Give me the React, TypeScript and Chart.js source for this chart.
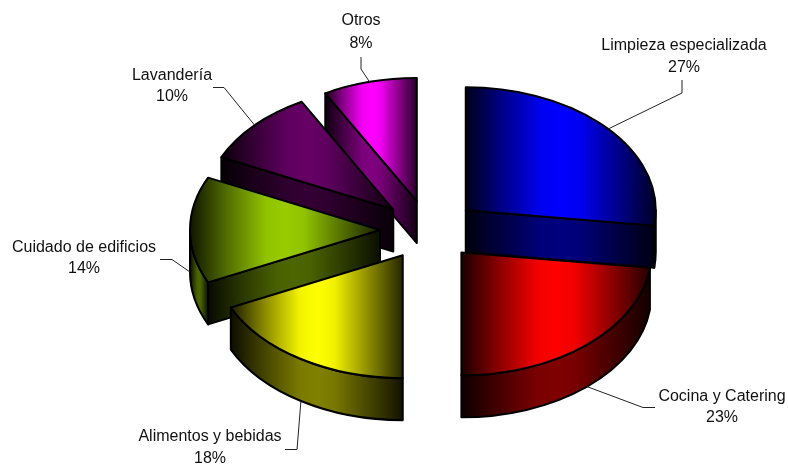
import React, { useEffect, useRef } from "react";
import { Chart, registerables } from "chart.js";

Chart.register(...registerables);

const categories = ["Limpieza especializada", "Cocina y Catering", "Alimentos y bebidas", "Cuidado de edificios", "Lavandería", "Otros"];
const shares = [27, 23, 18, 14, 10, 8];
const percentLabels = ["27%", "23%", "18%", "14%", "10%", "8%"];
const baseColors = [[0, 0, 255], [255, 0, 0], [255, 255, 0], [153, 204, 0], [102, 0, 102], [255, 0, 255]];

// Presentation settings for the tilted, exploded pie
const RADIUS = 190;
const TILT = 0.647;
const EXPLODE_TILT = 0.61;
const DEPTH = 42;
const EXPLODE = 49;
const PAINT_ORDER = [5, 4, 0, 3, 1, 2];
const FONT = '16px "Liberation Sans", Arial, sans-serif';
// centre x, first baseline, second baseline, elbow and stub of each leader
const labelLayout = [
  { x: 684, y1: 50, y2: 72, pts: [[682, 93], [682, 80]] },
  { x: 722, y1: 401, y2: 422, pts: [[643, 407.5], [655, 407.5]] },
  { x: 210, y1: 441, y2: 463, pts: [[297, 449.5], [285, 449.5]] },
  { x: 84, y1: 252, y2: 273, pts: [[172, 259.5], [160, 259.5]] },
  { x: 172, y1: 80, y2: 101, pts: [[224, 87.5], [213, 87.5]] },
  { x: 361, y1: 25, y2: 48, pts: [[361, 69], [361, 57]] },
];

const rgb = (c: number[], f: number) => `rgb(${c.map((v) => Math.round(v * f)).join(",")})`;

function sheen(ctx: CanvasRenderingContext2D, x0: number, x1: number, c: number[], f: number, lo = 0.1, hi = 0.15) {
  const g = ctx.createLinearGradient(x0, 0, x1, 0);
  g.addColorStop(0, rgb(c, f * lo));
  g.addColorStop(0.2, rgb(c, f * 0.55));
  g.addColorStop(0.4, rgb(c, f * 0.95));
  g.addColorStop(0.5, rgb(c, f));
  g.addColorStop(0.6, rgb(c, f * 0.95));
  g.addColorStop(0.8, rgb(c, f * 0.55));
  g.addColorStop(1, rgb(c, f * hi));
  return g;
}

function geometry(arc: any) {
  const mid = (arc.startAngle + arc.endAngle) / 2;
  const ax = arc.x + Math.cos(mid) * EXPLODE;
  const ay = arc.y + Math.sin(mid) * EXPLODE * EXPLODE_TILT;
  const r = arc.outerRadius;
  const pt = (a: number, dy = 0) => [ax + Math.cos(a) * r, ay + Math.sin(a) * r * TILT + dy];
  return { mid, ax, ay, r, pt };
}

const piePlugin = {
  id: "tiltedPie",
  beforeDatasetsDraw(chart: any) {
    const ctx: CanvasRenderingContext2D = chart.ctx;
    const arcs = chart.getDatasetMeta(0).data;
    ctx.save();
    ctx.strokeStyle = "#000";
    ctx.lineWidth = 2;
    ctx.lineJoin = "round";
    for (const i of PAINT_ORDER) {
      const arc = arcs[i];
      const c = baseColors[i];
      const s = arc.startAngle;
      const e = arc.endAngle;
      const { ax, ay, r, pt } = geometry(arc);

      const wall = (a: number) => {
        const p = pt(a);
        ctx.beginPath();
        ctx.moveTo(ax, ay);
        ctx.lineTo(p[0], p[1]);
        ctx.lineTo(p[0], p[1] + DEPTH);
        ctx.lineTo(ax, ay + DEPTH);
        ctx.closePath();
        ctx.fillStyle = sheen(ctx, Math.min(ax, p[0]), Math.max(ax, p[0]), c, 0.5);
        ctx.fill();
        ctx.stroke();
      };
      if (Math.cos(s) < -1e-6) wall(s);
      if (Math.cos(e) > 1e-6) wall(e);

      const rs = Math.max(s, 0);
      const re = Math.min(e, Math.PI);
      if (re > rs) {
        const a = pt(rs);
        const b = pt(re);
        ctx.beginPath();
        ctx.ellipse(ax, ay, r, r * TILT, 0, rs, re);
        ctx.lineTo(b[0], b[1] + DEPTH);
        ctx.ellipse(ax, ay + DEPTH, r, r * TILT, 0, re, rs, true);
        ctx.lineTo(a[0], a[1]);
        ctx.closePath();
        ctx.fillStyle = sheen(ctx, Math.min(a[0], b[0]), Math.max(a[0], b[0]), c, 0.5);
        ctx.fill();
        ctx.stroke();
      }

      const xs = [ax, pt(s)[0], pt(e)[0]];
      if (s < 0 && e > 0) xs.push(ax + r);
      if (s < Math.PI && e > Math.PI) xs.push(ax - r);
      ctx.beginPath();
      ctx.moveTo(ax, ay);
      ctx.ellipse(ax, ay, r, r * TILT, 0, s, e);
      ctx.closePath();
      ctx.fillStyle = sheen(ctx, Math.min(...xs), Math.max(...xs), c, 1);
      ctx.fill();
      ctx.stroke();
    }
    ctx.restore();
    return false;
  },
  afterDraw(chart: any) {
    const ctx: CanvasRenderingContext2D = chart.ctx;
    const arcs = chart.getDatasetMeta(0).data;
    ctx.save();
    ctx.font = FONT;
    ctx.textAlign = "center";
    ctx.textBaseline = "alphabetic";
    ctx.fillStyle = "#111";
    categories.forEach((name, i) => {
      const l = labelLayout[i];
      ctx.fillText(name, l.x, l.y1);
      ctx.fillText(percentLabels[i], l.x, l.y2);
      const { mid, pt } = geometry(arcs[i]);
      const start = pt(mid, Math.sin(mid) > -0.01 ? DEPTH : 0);
      ctx.beginPath();
      ctx.moveTo(start[0], start[1]);
      l.pts.forEach((p) => ctx.lineTo(p[0], p[1]));
      ctx.strokeStyle = "#222";
      ctx.lineWidth = 1;
      ctx.stroke();
    });
    ctx.restore();
  },
};

export default function App() {
  const ref = useRef<HTMLCanvasElement>(null);
  useEffect(() => {
    const chart = new Chart(ref.current!, {
      type: "pie",
      data: {
        labels: categories,
        datasets: [{ data: shares, backgroundColor: baseColors.map((c) => rgb(c, 1)), borderColor: "#000" }],
      },
      options: {
        animation: false,
        responsive: false,
        radius: RADIUS,
        layout: { padding: { left: 70, bottom: 4 } },
        plugins: { legend: { display: false }, tooltip: { enabled: false } },
      } as any,
      plugins: [piePlugin],
    });
    return () => chart.destroy();
  }, []);
  return (
    <canvas
      ref={ref}
      width={788}
      height={464}
      style={{ position: "absolute", left: 0, top: 0, width: 788, height: 464, background: "#fff" }}
    />
  );
}
